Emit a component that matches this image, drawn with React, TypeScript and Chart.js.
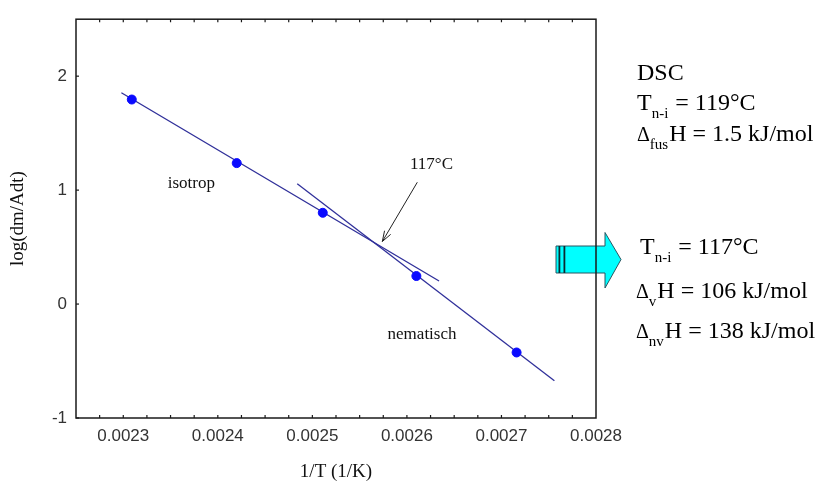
import React, { useEffect, useRef } from 'react';
import { Chart, registerables } from 'chart.js';

Chart.register(...registerables);

// ---- data ----
const xTickValues = [0.0023, 0.0024, 0.0025, 0.0026, 0.0027, 0.0028];
const yTickValues = [-1, 0, 1, 2];
const xMinorStep = 0.000025;

const inverseT = [0.002309, 0.00242, 0.002511, 0.00261, 0.002716];
const logRate = [1.795, 1.237, 0.801, 0.246, -0.425];

const isotropFitX = [0.002298, 0.002634];
const isotropFitY = [1.855, 0.202];
const nematicFitX = [0.002484, 0.002756];
const nematicFitY = [1.055, -0.673];

const plotLabels = ['isotrop', 'nematisch', '117°C'];
const plotLabelX = [0.002372, 0.002616, 0.002626];
const plotLabelY = [1.061, -0.269, 1.225];

const pointerX = [0.002611, 0.002574];
const pointerY = [1.069, 0.549];

type Seg = { t: string; sub?: boolean; delta?: boolean };
const dscLines: Seg[][] = [
  [{ t: 'DSC' }],
  [{ t: 'T' }, { t: 'n-i', sub: true }, { t: ' = 119°C' }],
  [{ t: 'Δ', delta: true }, { t: 'fus', sub: true }, { t: 'H = 1.5 kJ/mol' }],
];
const fitLines: Seg[][] = [
  [{ t: 'T' }, { t: 'n-i', sub: true }, { t: ' = 117°C' }],
  [{ t: 'Δ', delta: true }, { t: 'v', sub: true }, { t: 'H = 106 kJ/mol' }],
  [{ t: 'Δ', delta: true }, { t: 'nv', sub: true }, { t: 'H = 138 kJ/mol' }],
];

const pairs = (xs: number[], ys: number[]) => xs.map((x, i) => ({ x, y: ys[i] }));

const SERIF = '"Liberation Serif", "Times New Roman", serif';
const SANS = '"Liberation Sans", Arial, sans-serif';

function drawRich(ctx: CanvasRenderingContext2D, segs: Seg[], x0: number, baseline: number) {
  let x = x0;
  ctx.textAlign = 'left';
  ctx.textBaseline = 'alphabetic';
  for (const s of segs) {
    if (s.sub) {
      ctx.font = `15px ${SERIF}`;
      ctx.fillText(s.t, x, baseline + 8);
      x += ctx.measureText(s.t).width + 1;
    } else if (s.delta) {
      ctx.font = `20px ${SERIF}`;
      ctx.fillText(s.t, x, baseline);
      x += ctx.measureText(s.t).width;
    } else {
      ctx.font = `24px ${SERIF}`;
      ctx.fillText(s.t, x, baseline);
      x += ctx.measureText(s.t).width;
    }
  }
}

const overlayPlugin = {
  id: 'overlay',
  afterDraw(chart: any) {
    const { ctx, chartArea: a } = chart;
    const xs = chart.scales.x;
    const ys = chart.scales.y;
    ctx.save();

    // big cyan arrow
    ctx.beginPath();
    ctx.moveTo(556, 246);
    ctx.lineTo(605, 246);
    ctx.lineTo(605, 232.5);
    ctx.lineTo(621, 259.5);
    ctx.lineTo(605, 288);
    ctx.lineTo(605, 273);
    ctx.lineTo(556, 273);
    ctx.closePath();
    ctx.fillStyle = '#00ffff';
    ctx.fill();
    ctx.strokeStyle = '#2a5560';
    ctx.lineWidth = 1;
    ctx.stroke();
    ctx.fillStyle = '#0b2a30';
    ctx.fillRect(558.5, 246, 1.8, 27);
    ctx.fillRect(563.5, 246, 1.8, 27);

    // frame
    ctx.strokeStyle = '#1a1a1a';
    ctx.lineWidth = 1.5;
    ctx.strokeRect(a.left, a.top, a.right - a.left, a.bottom - a.top);

    // tick marks
    ctx.lineWidth = 1.2;
    const n = Math.round((xs.max - xs.min) / xMinorStep);
    for (let k = 1; k < n; k++) {
      const px = xs.getPixelForValue(xs.min + k * xMinorStep);
      ctx.beginPath();
      ctx.moveTo(px, a.bottom);
      ctx.lineTo(px, a.bottom - 3);
      ctx.moveTo(px, a.top);
      ctx.lineTo(px, a.top + 3);
      ctx.stroke();
    }
    for (const v of yTickValues) {
      const py = ys.getPixelForValue(v);
      ctx.beginPath();
      ctx.moveTo(a.left, py);
      ctx.lineTo(a.left + 3, py);
      ctx.stroke();
    }

    // in-plot labels
    ctx.fillStyle = '#111';
    ctx.font = `17px ${SERIF}`;
    ctx.textAlign = 'center';
    ctx.textBaseline = 'middle';
    plotLabels.forEach((t, i) => {
      ctx.fillText(t, xs.getPixelForValue(plotLabelX[i]), ys.getPixelForValue(plotLabelY[i]));
    });

    // pointer arrow to intersection
    const x0 = xs.getPixelForValue(pointerX[0]);
    const y0 = ys.getPixelForValue(pointerY[0]);
    const x1 = xs.getPixelForValue(pointerX[1]);
    const y1 = ys.getPixelForValue(pointerY[1]);
    ctx.strokeStyle = '#222';
    ctx.lineWidth = 1;
    ctx.beginPath();
    ctx.moveTo(x0, y0);
    ctx.lineTo(x1, y1);
    const ang = Math.atan2(y1 - y0, x1 - x0);
    const hl = 11;
    ctx.moveTo(x1, y1);
    ctx.lineTo(x1 - hl * Math.cos(ang - 0.33), y1 - hl * Math.sin(ang - 0.33));
    ctx.moveTo(x1, y1);
    ctx.lineTo(x1 - hl * Math.cos(ang + 0.33), y1 - hl * Math.sin(ang + 0.33));
    ctx.stroke();

    // right-hand notes
    ctx.fillStyle = '#000';
    const dscBase = [80, 110, 141];
    dscLines.forEach((segs, i) => drawRich(ctx, segs, 637, dscBase[i]));
    const fitBase = [254, 298, 338];
    fitLines.forEach((segs, i) => drawRich(ctx, segs, i === 0 ? 640 : 636, fitBase[i]));

    ctx.restore();
  },
};

export default function App() {
  const ref = useRef<HTMLCanvasElement | null>(null);

  useEffect(() => {
    if (!ref.current) return;
    const chart = new Chart(ref.current, {
      type: 'scatter',
      data: {
        datasets: [
          {
            label: 'Messpunkte',
            data: pairs(inverseT, logRate),
            backgroundColor: '#0a0aff',
            borderColor: '#0a0aff',
            pointRadius: 4.5,
            pointHoverRadius: 4.5,
            showLine: false,
          },
          {
            label: 'isotrop',
            data: pairs(isotropFitX, isotropFitY),
            showLine: true,
            borderColor: '#30309a',
            borderWidth: 1.3,
            pointRadius: 0,
          },
          {
            label: 'nematisch',
            data: pairs(nematicFitX, nematicFitY),
            showLine: true,
            borderColor: '#30309a',
            borderWidth: 1.3,
            pointRadius: 0,
          },
        ],
      },
      options: {
        animation: false,
        responsive: false,
        layout: { padding: { left: 0, top: 14, right: 221, bottom: 0 } },
        plugins: { legend: { display: false }, tooltip: { enabled: false } },
        scales: {
          x: {
            type: 'linear',
            min: 0.00225,
            max: 0.0028,
            grid: { display: false, drawTicks: false },
            border: { display: false },
            afterBuildTicks: (s: any) => {
              s.ticks = xTickValues.map((v) => ({ value: v }));
            },
            afterFit: (s: any) => {
              s.height = 70;
            },
            ticks: {
              padding: 8,
              maxRotation: 0,
              autoSkip: false,
              color: '#333',
              font: { family: SANS, size: 17 },
              callback: (v: any) => Number(v).toFixed(4),
            },
            title: {
              display: true,
              text: '1/T (1/K)',
              color: '#111',
              font: { family: SERIF, size: 19 },
              padding: { top: 0, bottom: 5 },
            },
          },
          y: {
            type: 'linear',
            min: -1,
            max: 2.5,
            grid: { display: false, drawTicks: false },
            border: { display: false },
            afterBuildTicks: (s: any) => {
              s.ticks = yTickValues.map((v) => ({ value: v }));
            },
            afterFit: (s: any) => {
              s.width = 76;
            },
            ticks: {
              padding: 9,
              autoSkip: false,
              color: '#333',
              font: { family: SANS, size: 17 },
              callback: (v: any) => String(v),
            },
            title: {
              display: true,
              text: 'log(dm/Adt)',
              color: '#111',
              font: { family: SERIF, size: 19 },
              padding: { top: 7, bottom: 0 },
            },
          },
        },
      },
      plugins: [overlayPlugin],
    });
    return () => chart.destroy();
  }, []);

  return (
    <div style={{ position: 'absolute', left: 0, top: 0, width: 817, height: 488, background: '#fff' }}>
      <canvas ref={ref} width={817} height={488} style={{ display: 'block' }} />
    </div>
  );
}
